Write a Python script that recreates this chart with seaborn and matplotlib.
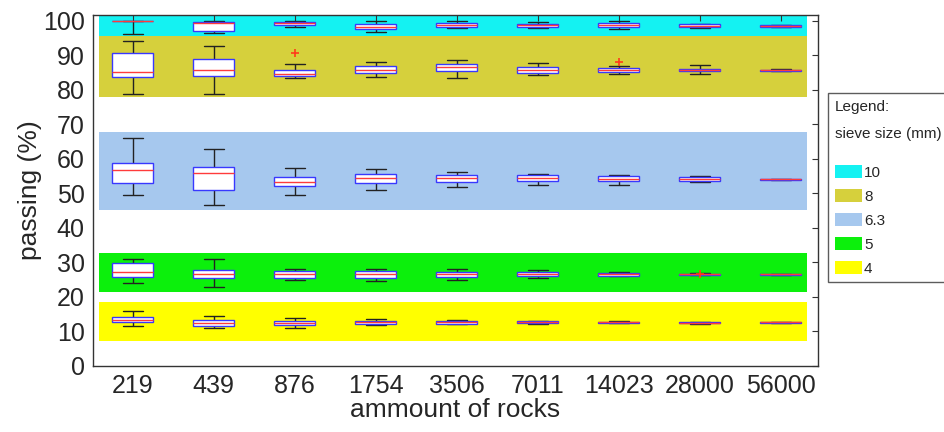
import pandas as pd
import seaborn as sns
import matplotlib.pyplot as plt
from matplotlib.patches import Patch

# amount of rocks (x categories)
rocks = ["219", "439", "876", "1754", "3506", "7011", "14023", "28000", "56000"]

# box stats per category: (low whisker, q1, median, q3, high whisker)
box_10 = [(96.0, 99.9, 100.0, 100.0, 100.0), (96.3, 97.1, 99.3, 99.7, 100.0),
          (98.1, 98.6, 99.4, 99.6, 100.0), (96.6, 97.6, 98.3, 99.0, 99.9),
          (98.0, 98.3, 98.8, 99.2, 100.0), (97.9, 98.1, 98.6, 99.0, 99.7),
          (97.5, 98.1, 98.6, 99.2, 99.9), (97.9, 98.1, 98.5, 99.0, 99.0),
          (98.1, 98.3, 98.4, 98.6, 98.7)]
box_8 = [(78.7, 83.6, 85.2, 90.5, 94.1), (78.8, 83.9, 85.8, 89.0, 92.8),
         (83.3, 83.9, 84.5, 85.7, 87.5), (83.8, 84.8, 85.8, 86.9, 88.0),
         (83.5, 85.5, 86.5, 87.4, 88.5), (84.3, 84.9, 85.8, 86.7, 87.6),
         (84.6, 85.1, 85.6, 86.2, 86.8), (84.6, 85.3, 85.6, 86.0, 87.1),
         (85.3, 85.4, 85.6, 85.8, 85.9)]
box_63 = [(49.4, 53.0, 56.7, 58.8, 65.9), (46.7, 51.0, 55.8, 57.6, 62.9),
          (49.6, 52.1, 53.3, 54.7, 57.4), (50.9, 53.0, 54.3, 55.6, 57.0),
          (51.9, 53.4, 54.4, 55.2, 56.3), (52.3, 53.6, 54.4, 55.2, 55.6),
          (52.5, 53.5, 54.2, 55.0, 55.4), (53.2, 53.5, 54.0, 54.6, 54.9),
          (53.8, 53.9, 54.0, 54.1, 54.2)]
box_5 = [(24.1, 25.7, 27.2, 29.7, 31.1), (22.9, 25.5, 26.5, 27.8, 31.1),
         (25.0, 25.4, 26.5, 27.4, 28.1), (24.6, 25.5, 26.6, 27.4, 28.2),
         (25.0, 25.8, 26.6, 27.2, 28.1), (25.4, 25.9, 26.5, 27.1, 27.8),
         (25.9, 26.1, 26.5, 26.9, 27.1), (26.2, 26.3, 26.5, 26.7, 26.8),
         (26.3, 26.4, 26.5, 26.6, 26.7)]
box_4 = [(11.6, 12.6, 13.4, 14.2, 15.9), (11.0, 11.5, 12.5, 13.2, 14.5),
         (11.1, 11.8, 12.4, 13.0, 13.9), (11.8, 12.1, 12.6, 13.0, 13.6),
         (12.0, 12.2, 12.6, 12.9, 13.3), (12.2, 12.4, 12.6, 12.9, 13.1),
         (12.3, 12.5, 12.6, 12.8, 12.9), (12.2, 12.3, 12.5, 12.7, 12.8),
         (12.5, 12.55, 12.6, 12.65, 12.7)]

# outliers
outlier_x = ["876", "14023", "28000"]
outlier_y = [90.7, 88.0, 26.7]

# sieve sizes and background bands
sieve_labels = ["10", "8", "6.3", "5", "4"]
band_lo = [95.5, 78.0, 45.3, 21.3, 7.2]
band_hi = [101.6, 95.5, 67.7, 32.6, 18.5]
band_colors = ["#14f2f2", "#d6d03c", "#a6c8ee", "#0cf00c", "#ffff00"]

sns.set_theme(style="white")
plt.rcParams['font.family'] = ['Liberation Sans', 'DejaVu Sans']

fig, ax = plt.subplots(figsize=(9.44, 4.32), dpi=100)
fig.subplots_adjust(left=0.0985, right=0.8665, top=0.965, bottom=0.153)

# background bands
for lo, hi, c in zip(band_lo, band_hi, band_colors):
    ax.axhspan(lo, hi, xmin=0.008, xmax=0.985, color=c, lw=0, zorder=0)

# boxes, one seaborn call per sieve size
for boxes in [box_10, box_8, box_63, box_5, box_4]:
    rows = []
    for cat, stats in zip(rocks, boxes):
        for v in stats:
            rows.append({"rocks": cat, "passing": v})
    df = pd.DataFrame(rows)
    sns.boxplot(data=df, x="rocks", y="passing", order=rocks, ax=ax,
                whis=(0, 100), width=0.5, color="white", linewidth=1,
                showfliers=False,
                boxprops={"edgecolor": "#3838ff", "zorder": 3},
                medianprops={"color": "#ff3b3b", "zorder": 4},
                whiskerprops={"color": "#222222", "zorder": 2},
                capprops={"color": "#222222", "zorder": 2})

# outliers
ox = [rocks.index(x) for x in outlier_x]
ax.plot(ox, outlier_y, "+", color="#ff3b1a", ms=6, mew=1.2, zorder=5)

ax.set_xlim(-0.49, 8.46)
ax.set_ylim(0, 101.6)
ax.set_yticks(range(0, 101, 10))
ax.set_xlabel("ammount of rocks", fontsize=19, labelpad=0)
ax.set_ylabel("passing (%)", fontsize=19, labelpad=0.5)
ax.tick_params(direction="in", top=True, right=True, length=4, width=0.8,
               labelsize=18, color="#333333", pad=6)
for s in ax.spines.values():
    s.set_color("#333333")
    s.set_linewidth(1)

handles = [Patch(facecolor=c, edgecolor="none") for c in band_colors]
leg = ax.legend(handles, sieve_labels, title="Legend:\nsieve size (mm)",
                loc="upper left", bbox_to_anchor=(1.0138, 0.778),
                fontsize=11, title_fontsize=11, alignment="left",
                frameon=True, fancybox=False, edgecolor="#333333",
                handlelength=1.8, handleheight=0.95, handletextpad=0.1,
                labelspacing=0.6, borderpad=0.45, borderaxespad=0)
leg.get_title().set_linespacing(2.2)
leg._legend_box.sep = 17
leg.get_frame().set_linewidth(1)

plt.savefig("out.png", dpi=100)
